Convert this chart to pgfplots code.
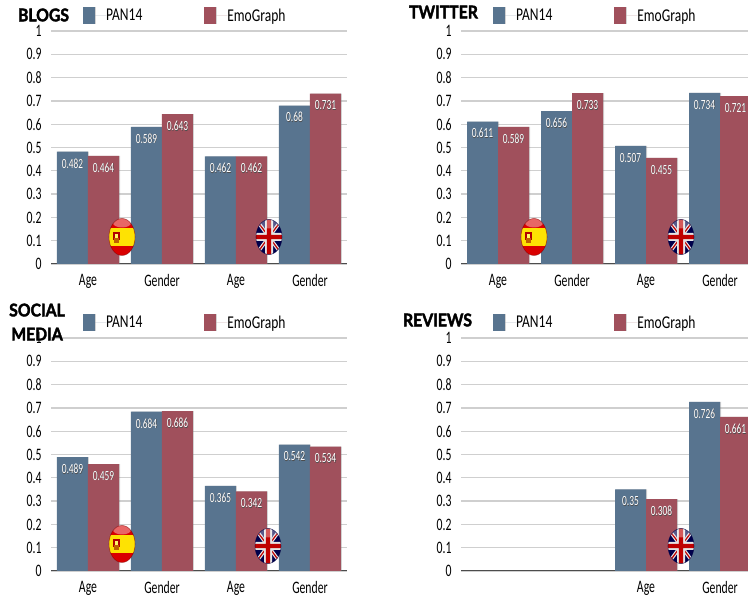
\documentclass[border=0pt]{standalone}
\usepackage{fontspec}
\setmainfont{Carlito}[FakeStretch=0.75]
\newfontfamily\tickfont{Carlito}[FakeStretch=0.67]
\newfontfamily\titlefont{Lato}[FakeStretch=0.9,BoldFeatures={FakeBold=2.2,FakeStretch=0.9}]
\usepackage{pgfplots}
\pgfplotsset{compat=1.18}
\usetikzlibrary{shadows}
\definecolor{panblue}{HTML}{58748F}
\definecolor{emored}{HTML}{A0505C}
\definecolor{gridgray}{HTML}{CFCFCF}

% white value text with a small dark offset copy behind it
\newcommand{\shadowed}[1]{\makebox[0pt]{\raisebox{-0.7pt}{\hspace{0.7pt}\textcolor{black!70}{#1}}}\makebox[0pt]{\textcolor{white}{#1}}}

\pgfplotsset{
  panel/.style={
    scale only axis, width=296pt, height=233pt, anchor=south west,
    ybar=0pt, bar width=31pt,
    xmin=-0.5, xmax=3.5, ymin=0, ymax=1,
    axis y line*=left, axis x line*=bottom,
    y axis line style={draw=none},
    x axis line style={draw=black!70, line width=1pt, -},
    xtick={0,1,2,3}, xticklabels={Age,Gender,Age,Gender},
    ytick={0,0.1,0.2,0.3,0.4,0.5,0.6,0.7,0.8,0.9,1},
    major tick length=0pt,
    ymajorgrids, grid style={gridgray, line width=1.3pt},
    /pgf/number format/assume math mode=true,
    /pgf/number format/precision=3,
    tick label style={font=\tickfont\fontsize{17.5}{18}\selectfont, text=black},
    yticklabel style={xshift=-6pt},
    xticklabel style={yshift=-7pt},
    nodes near coords={\shadowed{\pgfmathprintnumber\pgfplotspointmeta}},
    every node near coord/.append style={anchor=center, yshift=-12pt,
      font=\tickfont\fontsize{14}{15}\selectfont},
    legend columns=2,
    legend cell align=left,
    legend style={at={(0.108,1.066)}, anchor=west, draw=none, fill=none,
      inner sep=0pt, font=\fontsize{18}{19}\selectfont,
      /tikz/every even column/.style={column sep=62pt},
      nodes={inner sep=0pt}},
  },
  panbar/.style={fill=panblue, draw=none,
    drop shadow={shadow xshift=1pt, shadow yshift=0pt, opacity=0.35},
    legend image code/.code={\fill[panblue] (0pt,-8.5pt) rectangle (12pt,8.5pt);\path (12pt,0) -- (23pt,0);}},
  emobar/.style={fill=emored, draw=none,
    drop shadow={shadow xshift=1pt, shadow yshift=0pt, opacity=0.35},
    legend image code/.code={\fill[emored] (0pt,-8.5pt) rectangle (12pt,8.5pt);\path (12pt,0) -- (23pt,0);}},
}

% Spanish flag on a glossy oval
\newcommand{\spainflag}[2]{%
  \begin{scope}[shift={(#1pt,#2pt)}]
    \begin{scope}
      \clip (0,0) ellipse (13pt and 18.5pt);
      \fill[red!85!black] (-14pt,-20pt) rectangle (14pt,20pt);
      \fill[yellow!85!orange] (-14pt,-9pt) rectangle (14pt,9pt);
      \fill[red!70!black] (-9pt,-3pt) rectangle (-2pt,5pt);
      \fill[orange!75!black] (-8pt,-6pt) rectangle (-3pt,-1pt);
      \fill[yellow!60!white] (-7pt,-1pt) rectangle (-4pt,3pt);
      \fill[white, opacity=0.4] (0,14pt) ellipse (9pt and 4.5pt);
    \end{scope}
    \draw[red!45!black, opacity=0.5, line width=0.6pt] (0,0) ellipse (13pt and 18.5pt);
  \end{scope}}

% Union flag on a glossy oval
\newcommand{\ukflag}[2]{%
  \begin{scope}[shift={(#1pt,#2pt)}]
    \begin{scope}
      \clip (0,0) ellipse (13pt and 17.5pt);
      \fill[blue!30!black] (-14pt,-18pt) rectangle (14pt,18pt);
      \draw[white!90!black, line width=3.5pt] (-13pt,-17.5pt) -- (13pt,17.5pt) (-13pt,17.5pt) -- (13pt,-17.5pt);
      \draw[red!75!black, line width=1.2pt] (-13pt,-17.5pt) -- (13pt,17.5pt) (-13pt,17.5pt) -- (13pt,-17.5pt);
      \fill[white!90!black] (-14pt,-4pt) rectangle (14pt,4pt) (-4pt,-18pt) rectangle (4pt,18pt);
      \fill[red!75!black] (-14pt,-2.2pt) rectangle (14pt,2.2pt) (-2.2pt,-18pt) rectangle (2.2pt,18pt);
      \fill[white, opacity=0.35] (0,13pt) ellipse (9pt and 4.5pt);
    \end{scope}
    \draw[blue!25!black, opacity=0.6, line width=0.6pt] (0,0) ellipse (13pt and 17.5pt);
  \end{scope}}

\begin{document}
\begin{tikzpicture}
\useasboundingbox (0,0) rectangle (748pt,600pt);
\clip (0,0) rectangle (748pt,600pt);

% Blogs
\begin{axis}[panel, at={(51pt,336pt)}]
  \addplot[panbar] coordinates {(0,0.482) (1,0.589) (2,0.462) (3,0.68)};
  \addplot[emobar] coordinates {(0,0.464) (1,0.643) (2,0.462) (3,0.731)};
  \legend{PAN14,EmoGraph}
\end{axis}

% Twitter
\begin{axis}[panel, at={(461pt,336pt)}]
  \addplot[panbar] coordinates {(0,0.611) (1,0.656) (2,0.507) (3,0.734)};
  \addplot[emobar] coordinates {(0,0.589) (1,0.733) (2,0.455) (3,0.721)};
  \legend{PAN14,EmoGraph}
\end{axis}

% Social media
\begin{axis}[panel, at={(51pt,29pt)}]
  \addplot[panbar] coordinates {(0,0.489) (1,0.684) (2,0.365) (3,0.542)};
  \addplot[emobar] coordinates {(0,0.459) (1,0.686) (2,0.342) (3,0.534)};
  \legend{PAN14,EmoGraph}
\end{axis}

% Reviews
\begin{axis}[panel, at={(461pt,29pt)}, xtick={2,3}, xticklabels={Age,Gender}]
  \addplot[panbar] coordinates {(2,0.35) (3,0.726)};
  \addplot[emobar] coordinates {(2,0.308) (3,0.661)};
  \legend{PAN14,EmoGraph}
\end{axis}

\spainflag{122}{363}
\ukflag{269}{363}
\spainflag{534}{363}
\ukflag{681}{363}
\spainflag{122}{56}
\ukflag{268}{54}
\ukflag{681}{54}

\tikzset{paneltitle/.style={font=\titlefont\bfseries\fontsize{17.5}{24}\selectfont, text=black, inner sep=0pt, align=center}}
\node[paneltitle] at (43.5pt,585pt) {BLOGS};
\node[paneltitle] at (443.5pt,588pt) {TWITTER};
\node[paneltitle] at (37pt,278pt) {SOCIAL\\MEDIA};
\node[paneltitle] at (437.5pt,280pt) {REVIEWS};
\end{tikzpicture}
\end{document}
